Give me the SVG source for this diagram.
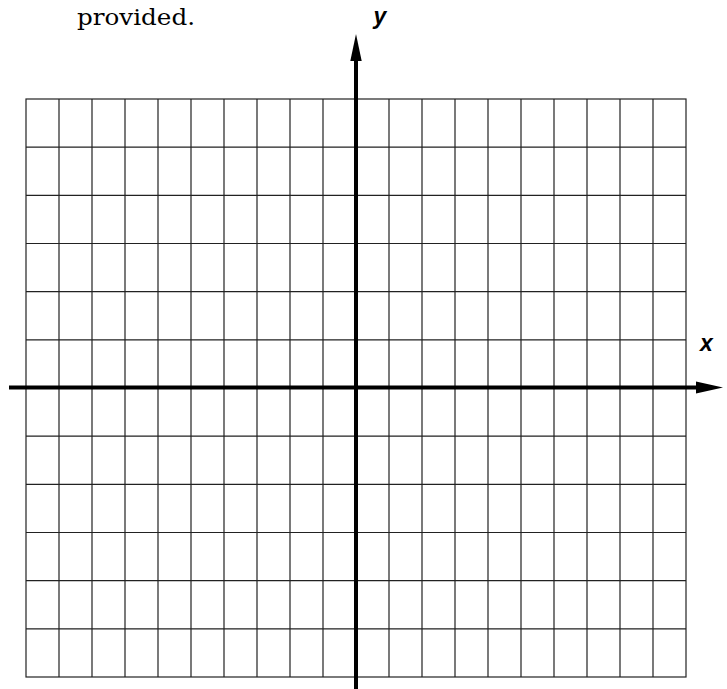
<svg xmlns="http://www.w3.org/2000/svg" width="727" height="689" viewBox="0 0 727 689">
<style>
.grid{stroke:#222;stroke-width:1.2;fill:none}
.axis{stroke:#000;stroke-width:4;fill:none}
.head{fill:#000}
.lbl{font-family:"Liberation Sans",Arial,sans-serif;font-weight:bold;font-style:italic;font-size:23px;fill:#000}
.cap{font-family:"DejaVu Serif","Liberation Serif",serif;font-size:23px;fill:#000}
</style>
<rect width="727" height="689" fill="#fff"/>
<text class="cap" x="77" y="25" textLength="118" lengthAdjust="spacingAndGlyphs">provided.</text>
<g id="grid" class="grid">
<rect x="26" y="99" width="660" height="578"/>
<path d="M59 99V677M92 99V677M125 99V677M158 99V677M191 99V677M224 99V677M257 99V677M290 99V677M323 99V677M389 99V677M422 99V677M455 99V677M488 99V677M521 99V677M554 99V677M587 99V677M620 99V677M653 99V677"/>
<path d="M26 147.2H686M26 195.3H686M26 243.5H686M26 291.7H686M26 339.8H686M26 436.2H686M26 484.3H686M26 532.5H686M26 580.7H686M26 628.8H686"/>
</g>
<g id="connectors">
<line class="axis" x1="9" y1="387.5" x2="698" y2="387.5"/>
<polygon class="head" points="696,381.5 723,387.5 696,393.5"/>
<line class="axis" x1="356" y1="689" x2="356" y2="58"/>
<polygon class="head" points="350.3,61 356,34 361.7,61"/>
</g>
<g id="label-y"><text class="lbl" x="380" y="23.5" text-anchor="middle">y</text></g>
<g id="label-x"><text class="lbl" x="706.5" y="351" text-anchor="middle">x</text></g>
</svg>
